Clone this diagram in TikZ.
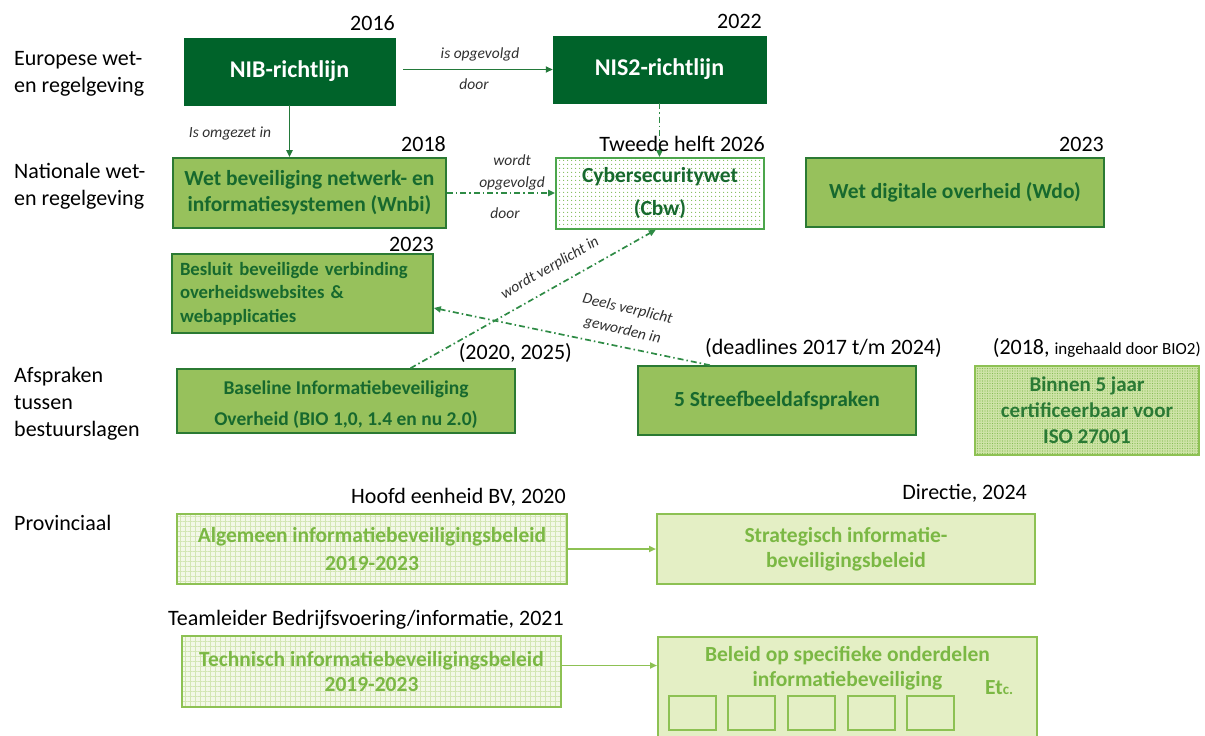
\documentclass[tikz,border=0pt]{standalone}
\usepackage{fontspec}
\setmainfont{Carlito}
\usetikzlibrary{arrows.meta,patterns.meta,calc}
\definecolor{dkg}{HTML}{00632A}
\definecolor{mdfill}{HTML}{97C15C}
\definecolor{mdborder}{HTML}{2B7A33}
\definecolor{mdtext}{HTML}{17692E}
\definecolor{ltfill}{HTML}{E4EFC5}
\definecolor{ltborder}{HTML}{8DC153}
\definecolor{lttext}{HTML}{7BB844}
\definecolor{linec}{HTML}{23793A}
\definecolor{ddc}{HTML}{2E8B45}
\definecolor{itc}{HTML}{303030}
\definecolor{cbwdot}{HTML}{7DBB55}
\definecolor{cbwborder}{HTML}{4CA64C}
\definecolor{isofill}{HTML}{CFE4A8}
\definecolor{isodot}{HTML}{86BC55}
\definecolor{isotext}{HTML}{2A7A35}
\definecolor{hatchfill}{HTML}{F3F8E8}
\definecolor{hatchc}{HTML}{D3E6B4}
\begin{document}
\begin{tikzpicture}[x=1pt,y=-1pt,
  box/.style={draw, inner sep=2pt, align=center, font=\bfseries\fontsize{21.5}{26}\selectfont},
  dk/.style={box, fill=dkg, draw=dkg, text=white},
  md/.style={box, fill=mdfill, draw=mdborder, text=mdtext, line width=1.6pt},
  lt/.style={box, fill=ltfill, draw=ltborder, text=lttext, line width=2pt},
  hatched/.style={box, draw=ltborder, text=lttext, line width=2pt,
     preaction={fill=hatchfill}, pattern={Hatch[distance=5pt,line width=0.45pt]}, pattern color=hatchc},
  cbwstyle/.style={box, draw=cbwborder, text=mdtext, line width=1.6pt,
     preaction={fill=white}, pattern={Dots[distance=4pt,radius=0.7pt]}, pattern color=cbwdot},
  isostyle/.style={box, draw=ltborder, text=isotext, line width=2pt,
     preaction={fill=isofill}, pattern={Dots[distance=2.5pt,radius=0.65pt]}, pattern color=isodot},
  lbl/.style={inner sep=0pt, text=black, font=\fontsize{22}{27}\selectfont},
  itl/.style={inner sep=0pt, text=itc, font=\itshape\fontsize{15.5}{22}\selectfont},
  sol/.style={draw=linec, line width=1.8pt, -{Triangle[length=7pt,width=6pt]}},
  lsol/.style={draw=ltborder, line width=1.8pt, -{Triangle[length=7pt,width=6pt]}},
  dd/.style={draw=ddc, line width=1.7pt, dash pattern=on 6pt off 3pt on 1.5pt off 3pt, -{Triangle[length=7pt,width=6pt]}},
  sq/.style={draw=ltborder, line width=2pt, minimum width=47, minimum height=34, inner sep=0pt}
]
\useasboundingbox (0,0) rectangle (1205,736);
\clip (0,0) rectangle (1205,736);

% left row labels
\node[lbl, align=left, anchor=west] (l1) at (14,74) {Europese wet-\\en regelgeving};
\node[lbl, align=left, anchor=west] (l2) at (14,186) {Nationale wet-\\en regelgeving};
\node[lbl, align=left, anchor=west] (l3) at (14,404) {Afspraken\\tussen\\bestuurslagen};
\node[lbl, anchor=west] (l4) at (14,523) {Provinciaal};

% boxes
\node[dk, minimum width=211, minimum height=67, font=\bfseries\fontsize{24}{28}\selectfont] (nib) at (289.5,71.5) {NIB-richtlijn};
\node[dk, minimum width=213, minimum height=67, font=\bfseries\fontsize{24}{28}\selectfont] (nis2) at (659.5,69.5) {NIS2-richtlijn};
\node[md, minimum width=273, minimum height=70] (wnbi) at (309.5,193) {Wet beveiliging netwerk- en\\informatiesystemen (Wnbi)};
\node[cbwstyle, minimum width=208, minimum height=71, font=\bfseries\fontsize{21.5}{33}\selectfont] (cbw) at (660,193.5) {Cybersecuritywet\\(Cbw)};
\node[md, minimum width=298, minimum height=69] (wdo) at (955,192.5) {Wet digitale overheid (Wdo)};
\node[md, minimum width=261, minimum height=79, text width=245, align=left, font=\bfseries\fontsize{18.7}{23.5}\selectfont] (besluit) at (302.5,293.5) {Besluit beveiligde verbinding\\overheidswebsites \&\\webapplicaties};
\node[md, minimum width=338, minimum height=64, font=\bfseries\fontsize{19.5}{31}\selectfont] (bio) at (346,401) {\raisebox{-4pt}[\height][\depth]{Baseline Informatiebeveiliging}\\\raisebox{-4pt}[\height][\depth]{Overheid (BIO 1,0, 1.4 en nu 2.0)}};
\node[md, minimum width=278, minimum height=69] (streef) at (777,400.5) {5 Streefbeeldafspraken};
\node[isostyle, minimum width=224, minimum height=89, font=\bfseries\fontsize{21}{26}\selectfont] (iso) at (1087,410.5) {Binnen 5 jaar\\certificeerbaar voor\\ISO 27001};
\node[hatched, minimum width=390, minimum height=70, font=\bfseries\fontsize{21.5}{28}\selectfont] (alg) at (372,549) {Algemeen informatiebeveiligingsbeleid\\2019-2023};
\node[lt, minimum width=378, minimum height=70, font=\bfseries\fontsize{21.5}{25}\selectfont] (strat) at (846,549) {Strategisch informatie-\\beveiligingsbeleid};
\node[hatched, minimum width=379, minimum height=71, font=\bfseries\fontsize{21.5}{25}\selectfont] (tech) at (371.5,671.5) {Technisch informatiebeveiligingsbeleid\\2019-2023};
\node[lt, minimum width=379, minimum height=115, anchor=north west] (beleid) at (657,636) {};
\node[inner sep=0pt, align=center, text=lttext, font=\bfseries\fontsize{21.5}{25}\selectfont, anchor=north] (beleidtxt) at ([yshift=-10pt]beleid.north) {Beleid op specifieke onderdelen\\informatiebeveiliging};
\node[inner sep=0pt, text=lttext, font=\bfseries\fontsize{21.5}{25}\selectfont, anchor=west] (etc) at (985,688) {Et{\fontsize{15}{18}\selectfont c.}};
\node[sq] (sq1) at (692.5,712.5) {};
\node[sq] (sq2) at (751.5,712.5) {};
\node[sq] (sq3) at (811,712.5) {};
\node[sq] (sq4) at (871,712.5) {};
\node[sq] (sq5) at (930,712.5) {};

% connectors
\draw[sol] ([xshift=8pt]nis2.west -| nib.east) -- (nis2.west);
\draw[sol] (nib.south) -- (nib.south |- wnbi.north);
\draw[dd] (wnbi.east) -- (wnbi.east -| cbw.west);
\draw[dd] (nis2.south) -- (nis2.south |- cbw.north);
\draw[dd] ($(bio.north west)!0.69!(bio.north east)$) -- ($(cbw.south west)!0.48!(cbw.south east)$);
\draw[dd] ($(streef.north west)!0.26!(streef.north east)$) -- ($(besluit.north east)!0.68!(besluit.south east)$);
\draw[lsol] (alg.east) -- (strat.west);
\draw[lsol] ([yshift=6pt]tech.east) -- ([yshift=6pt]tech.east -| beleid.west);

% year / owner labels
\node[lbl, anchor=base east] (y2016) at (395,30) {2016};
\node[lbl, anchor=base east] (y2022) at (762,28) {2022};
\node[lbl, anchor=base east] (y2018) at (446,151) {2018};
\node[lbl, anchor=base east] (y2026) at (765,151) {Tweede helft 2026};
\node[lbl, anchor=base east] (y2023a) at (1104,151) {2023};
\node[lbl, anchor=base east] (y2023b) at (434,251) {2023};
\node[lbl, anchor=base east] (y2020) at (572,359) {(2020, 2025)};
\node[lbl, anchor=base east] (ydl) at (942,354) {(deadlines 2017 t/m 2024)};
\node[lbl, anchor=base east] (y2018b) at (1201,354) {(2018, {\fontsize{17}{20}\selectfont ingehaald door BIO2)}};
\node[lbl, anchor=base east] (hoofd) at (566,503) {Hoofd eenheid BV, 2020};
\node[lbl, anchor=base east] (dir) at (1027,499) {Directie, 2024};
\node[lbl, anchor=base west] (team) at (168,625) {Teamleider Bedrijfsvoering/informatie, 2021};

% connector labels
\node[itl] (t1) at (480,54) {is opgevolgd};
\node[itl] (t2) at (474,84) {door};
\node[itl] (t3) at (230,133) {Is omgezet in};
\node[itl, align=center] (t4) at (512,172) {wordt\\opgevolgd};
\node[itl] (t5) at (505,213) {door};
\node[itl, rotate=30] (t6) at (550,268) {wordt verplicht in};
\node[itl, rotate=-13, align=center] (t7) at (625,320) {Deels verplicht\\geworden in};
\end{tikzpicture}
\end{document}
